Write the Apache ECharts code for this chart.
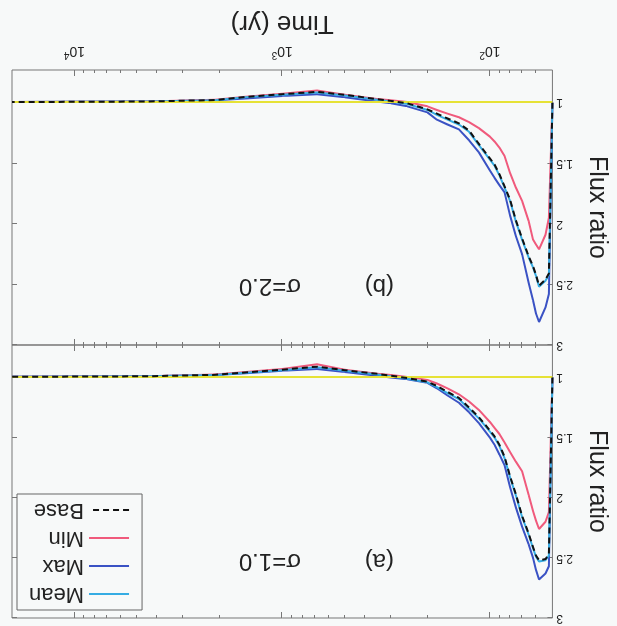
<!DOCTYPE html>
<html>
<head>
<meta charset="utf-8">
<script src="https://cdn.jsdelivr.net/npm/echarts@6/dist/echarts.min.js"></script>
<style>
  html, body { margin: 0; padding: 0; background: #f7f9f9; }
  /* the scanned figure is upside down, so the whole chart is turned */
  #chart { width: 617px; height: 626px; transform: rotate(180deg); }
</style>
</head>
<body>
<div id="chart"></div>
<script>
// time (yr) sampled on the log axis
var times = [50, 52, 54, 58, 60, 62, 65, 70, 75, 80, 85, 90, 95, 100, 113, 126, 141, 160, 180, 200,
             250, 300, 350, 500, 680, 1000, 1500, 2100, 4400, 20000];

// (a) sigma = 1.0
var meanA = [1.0, 2.48, 2.52, 2.53, 2.49, 2.42, 2.31, 2.16, 1.98, 1.83, 1.67, 1.57, 1.50, 1.45, 1.34, 1.26, 1.18, 1.13, 1.08, 1.04,
             1.01, 0.99, 0.975, 0.945, 0.915, 0.94, 0.96, 0.98, 0.99, 0.995];
var maxA  = [1.0, 2.57, 2.63, 2.68, 2.60, 2.50, 2.39, 2.24, 2.08, 1.91, 1.73, 1.64, 1.56, 1.50, 1.38, 1.29, 1.21, 1.15, 1.09, 1.045,
             1.015, 1.0, 0.985, 0.955, 0.93, 0.945, 0.965, 0.98, 0.99, 0.995];
var minA  = [1.0, 2.12, 2.20, 2.26, 2.19, 2.11, 1.98, 1.78, 1.70, 1.62, 1.54, 1.47, 1.42, 1.37, 1.27, 1.20, 1.14, 1.09, 1.05, 1.02,
             0.995, 0.98, 0.97, 0.935, 0.89, 0.93, 0.955, 0.975, 0.99, 0.995];
var baseA = [1.0, 2.47, 2.51, 2.52, 2.48, 2.41, 2.30, 2.15, 1.97, 1.82, 1.66, 1.56, 1.49, 1.44, 1.33, 1.25, 1.17, 1.12, 1.07, 1.035,
             1.005, 0.985, 0.97, 0.94, 0.91, 0.935, 0.958, 0.978, 0.99, 0.995];

// (b) sigma = 2.0
var meanB = [1.0, 2.42, 2.47, 2.52, 2.43, 2.36, 2.28, 2.13, 1.98, 1.81, 1.70, 1.60, 1.52, 1.47, 1.35, 1.24, 1.18, 1.14, 1.10, 1.06,
             1.01, 0.99, 0.975, 0.94, 0.915, 0.935, 0.955, 0.98, 0.99, 0.995];
var maxB  = [1.0, 2.58, 2.69, 2.81, 2.74, 2.63, 2.49, 2.25, 2.10, 1.93, 1.74, 1.68, 1.62, 1.56, 1.41, 1.31, 1.22, 1.18, 1.14, 1.08,
             1.03, 1.005, 0.99, 0.955, 0.93, 0.945, 0.965, 0.98, 0.99, 0.995];
var minB  = [1.0, 1.95, 2.09, 2.21, 2.17, 2.13, 1.98, 1.81, 1.70, 1.58, 1.44, 1.37, 1.32, 1.28, 1.21, 1.16, 1.12, 1.09, 1.06, 1.03,
             0.995, 0.98, 0.97, 0.935, 0.90, 0.925, 0.95, 0.975, 0.99, 0.995];
var baseB = [1.0, 2.41, 2.46, 2.51, 2.42, 2.35, 2.27, 2.12, 1.97, 1.80, 1.69, 1.59, 1.51, 1.46, 1.34, 1.23, 1.17, 1.13, 1.09, 1.055,
             1.005, 0.985, 0.97, 0.935, 0.91, 0.93, 0.952, 0.978, 0.99, 0.995];

var names = ['Mean', 'Max', 'Min', 'Base'];
var colors = ['#35ace3', '#3a52c4', '#f05a7c', '#111111'];
var yTicks = [1, 1.5, 2, 2.5, 3];
var xMajor = [100, 1000, 10000];
var xMinor = [60, 70, 80, 90, 200, 300, 400, 500, 600, 700, 800, 900,
              2000, 3000, 4000, 5000, 6000, 7000, 8000, 9000];
var panelText = [['(a)', 'σ=1.0'], ['(b)', 'σ=2.0']];

var font = 'Liberation Sans, Arial, sans-serif';
var frame = '#777';

var myChart = echarts.init(document.getElementById('chart'));

function pairs(arr) {
    return times.map(function (t, i) { return [t, arr[i]]; });
}

function xAx(grid, pos, ticks, len, labels) {
    return {
        type: 'log', logBase: 10, gridIndex: grid, position: pos,
        min: 50, max: 20000,
        axisLine: { show: false },
        splitLine: { show: false },
        axisTick: { show: true, inside: true, length: len, customValues: ticks,
                    lineStyle: { color: frame, width: 1 } },
        axisLabel: labels ? {
            show: true, margin: 10, customValues: xMajor, color: '#222',
            fontFamily: font,
            formatter: function (v) {
                return '{b|10}{s|' + Math.round(Math.log10(v)) + '}';
            },
            rich: {
                b: { fontSize: 14, fontFamily: font, color: '#222' },
                s: { fontSize: 10, fontFamily: font, color: '#222', padding: [0, 0, 9, 0] }
            }
        } : { show: false },
        name: labels ? 'Time (yr)' : '',
        nameLocation: 'middle', nameGap: 34,
        nameTextStyle: { fontSize: 26, fontFamily: font, color: '#222' }
    };
}

function yAx(grid, pos, labels) {
    return {
        type: 'value', gridIndex: grid, position: pos,
        min: 0.73, max: 3,
        axisLine: { show: false },
        splitLine: { show: false },
        axisTick: { show: true, inside: true, length: 5, customValues: yTicks,
                    lineStyle: { color: frame, width: 1 } },
        axisLabel: labels ? { show: true, customValues: yTicks, margin: 4, fontSize: 12,
                              fontFamily: font, color: '#222' } : { show: false },
        name: labels ? 'Flux ratio' : '',
        nameLocation: 'middle', nameGap: 24, nameRotate: 90,
        nameTextStyle: { fontSize: 25, fontFamily: font, color: '#222' }
    };
}

var xAxes = [];
var yAxes = [];
[0, 1].forEach(function (g) {
    xAxes.push(xAx(g, 'bottom', xMajor, 6, g === 1));
    xAxes.push(xAx(g, 'bottom', xMinor, 3, false));
    xAxes.push(xAx(g, 'top', xMajor, 6, false));
    xAxes.push(xAx(g, 'top', xMinor, 3, false));
    yAxes.push(yAx(g, 'left', true));
    yAxes.push(yAx(g, 'right', false));
});

var panels = [[meanA, maxA, minA, baseA], [meanB, maxB, minB, baseB]];
var zs = [4, 2, 3, 5];
var series = [];
panels.forEach(function (set, g) {
    set.forEach(function (vals, k) {
        var s = {
            name: names[k], type: 'line',
            xAxisIndex: g * 4, yAxisIndex: g * 2,
            data: pairs(vals),
            symbol: 'none', z: zs[k],
            lineStyle: { color: colors[k], width: 2, type: k === 3 ? [6, 4] : 'solid' },
            itemStyle: { color: colors[k] }
        };
        if (k === 1) {
            s.markLine = {
                silent: true, symbol: 'none', label: { show: false },
                lineStyle: { color: '#e6e236', width: 2, type: 'solid' },
                data: [{ yAxis: 1 }]
            };
        }
        series.push(s);
    });
});

var graphics = [];
panelText.forEach(function (p, g) {
    var top = g === 0 ? 53 : 328;
    graphics.push({ type: 'text', left: 223, top: top,
        style: { text: p[0], fontSize: 24, fontFamily: font, fill: '#222' } });
    graphics.push({ type: 'text', left: 316, top: top,
        style: { text: p[1], fontSize: 24, fontFamily: font, fill: '#222' } });
});

option = {
    backgroundColor: '#f7f9f9',
    animation: false,
    grid: [
        { left: 60, top: 8, width: 545, height: 273, show: true, borderColor: frame, borderWidth: 1 },
        { left: 60, top: 281, width: 545, height: 275, show: true, borderColor: frame, borderWidth: 1 }
    ],
    legend: {
        data: names, orient: 'vertical', right: 17, top: 16,
        itemWidth: 40, itemHeight: 14, itemGap: 6,
        padding: [5, 12, 5, 12],
        borderColor: '#666', borderWidth: 1,
        itemStyle: { color: 'rgba(0,0,0,0)', borderColor: 'rgba(0,0,0,0)', borderWidth: 0 },
        textStyle: { fontSize: 22, fontFamily: font, color: '#222' }
    },
    xAxis: xAxes,
    yAxis: yAxes,
    graphic: graphics,
    series: series
};

myChart.setOption(option);
</script>
</body>
</html>
